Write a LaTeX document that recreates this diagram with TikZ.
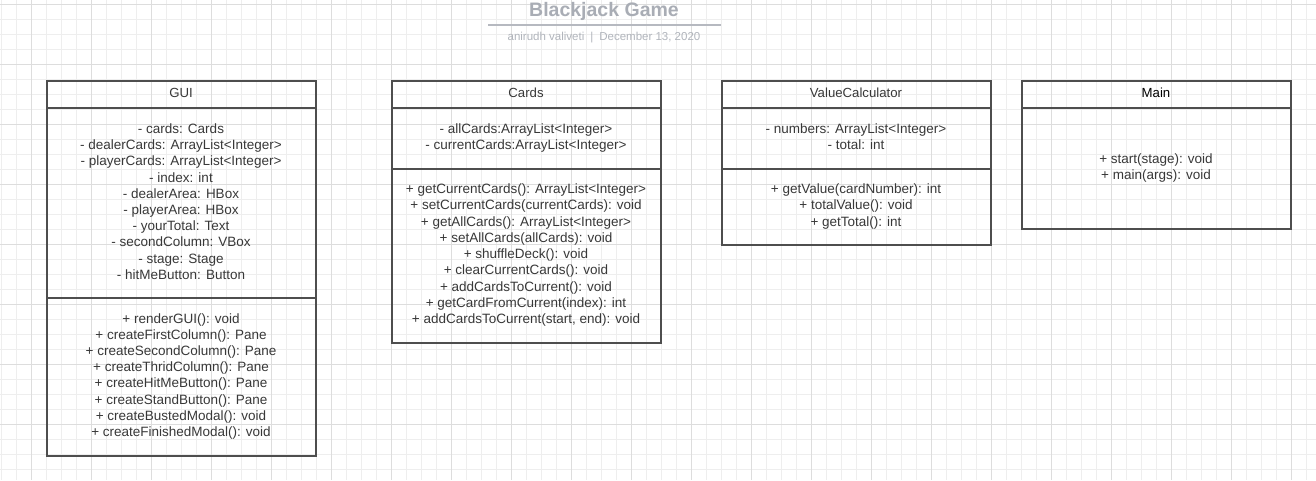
\documentclass[tikz,border=0pt]{standalone}
\usepackage{fontspec}
\setmainfont{Liberation Sans}

\definecolor{gridminor}{HTML}{EEEEEE}
\definecolor{gridmajor}{HTML}{DDDDDD}
\definecolor{boxline}{HTML}{4E4E4E}
\definecolor{membertext}{HTML}{383838}
\definecolor{titlegray}{HTML}{A9ADB5}
\definecolor{subgray}{HTML}{B1B5BC}

\tikzset{
    classbox/.style={draw=boxline, line width=1.8pt, anchor=north west, minimum width=269pt, inner sep=0pt},
    member/.style={anchor=base, inner sep=0pt, text=membertext, font=\fontsize{13.5}{16}\selectfont},
    classname/.style={anchor=base, inner sep=0pt, text=membertext, font=\fontsize{13.2}{16}\selectfont},
    divider/.style={draw=boxline, line width=1.8pt}
}

\begin{document}
\begin{tikzpicture}[x=1pt, y=-1pt]
    \useasboundingbox (0,0) rectangle (1316,480);
    \fill[white] (0,0) rectangle (1316,480);

    % Background grid
    \foreach \x in {1.7,16.7,...,1316} \draw[gridminor, line width=0.7pt] (\x,0) -- (\x,480);
    \foreach \y in {4.3,19.3,...,480} \draw[gridminor, line width=0.7pt] (0,\y) -- (1316,\y);
    \foreach \x in {31.7,91.7,...,1316} \draw[gridmajor, line width=0.7pt] (\x,0) -- (\x,480);
    \foreach \y in {4.3,64.3,...,480} \draw[gridmajor, line width=0.7pt] (0,\y) -- (1316,\y);

    % Title block
    \node[anchor=base, inner sep=0pt, text=titlegray, font=\fontsize{19.5}{20}\selectfont\bfseries] (title) at (604,16) {Blackjack Game};
    \draw[titlegray!85, line width=1.6pt] (488,24.7) -- (721,24.7);
    \node[anchor=base, inner sep=0pt, text=subgray, font=\fontsize{11.5}{12}\selectfont] (author) at (604,40) {anirudh valiveti\hspace{6pt}|\hspace{6pt}December 13, 2020};

    % Class boxes
    \node[classbox, minimum height=375pt] (gui) at (46,80) {};
    \node[classbox, minimum height=262pt] (cards) at (391,80) {};
    \node[classbox, minimum height=164pt] (calc) at (721,80) {};
    \node[classbox, minimum height=148pt] (main) at (1021,80) {};

    % Compartment dividers
    \draw[divider] ([yshift=-28pt]gui.north west) -- ([yshift=-28pt]gui.north east);
    \draw[divider] ([yshift=-218pt]gui.north west) -- ([yshift=-218pt]gui.north east);
    \draw[divider] ([yshift=-28pt]cards.north west) -- ([yshift=-28pt]cards.north east);
    \draw[divider] ([yshift=-89pt]cards.north west) -- ([yshift=-89pt]cards.north east);
    \draw[divider] ([yshift=-28pt]calc.north west) -- ([yshift=-28pt]calc.north east);
    \draw[divider] ([yshift=-89pt]calc.north west) -- ([yshift=-89pt]calc.north east);
    \draw[divider] ([yshift=-28pt]main.north west) -- ([yshift=-28pt]main.north east);

    % GUI
    \node[classname] (gui-name) at (181,97) {GUI};
    \node[member] (gui-a1) at (181,133.5) {- cards: Cards};
    \node[member] (gui-a2) at (181,149.5) {- dealerCards: ArrayList<Integer>};
    \node[member] (gui-a3) at (181,165.5) {- playerCards: ArrayList<Integer>};
    \node[member] (gui-a4) at (181,182) {- index: int};
    \node[member] (gui-a5) at (181,198) {- dealerArea: HBox};
    \node[member] (gui-a6) at (181,214.5) {- playerArea: HBox};
    \node[member] (gui-a7) at (181,230.5) {- yourTotal: Text};
    \node[member] (gui-a8) at (181,246.5) {- secondColumn: VBox};
    \node[member] (gui-a9) at (181,263) {- stage: Stage};
    \node[member] (gui-a10) at (181,279) {- hitMeButton: Button};
    \node[member] (gui-m1) at (181,323) {+ renderGUI(): void};
    \node[member] (gui-m2) at (181,339) {+ createFirstColumn(): Pane};
    \node[member] (gui-m3) at (181,355.5) {+ createSecondColumn(): Pane};
    \node[member] (gui-m4) at (181,371.5) {+ createThridColumn(): Pane};
    \node[member] (gui-m5) at (181,387.5) {+ createHitMeButton(): Pane};
    \node[member] (gui-m6) at (181,404) {+ createStandButton(): Pane};
    \node[member] (gui-m7) at (181,420) {+ createBustedModal(): void};
    \node[member] (gui-m8) at (181,436) {+ createFinishedModal(): void};

    % Cards
    \node[classname] (cards-name) at (526,97) {Cards};
    \node[member] (cards-a1) at (526,133.5) {- allCards:ArrayList<Integer>};
    \node[member] (cards-a2) at (526,149.5) {- currentCards:ArrayList<Integer>};
    \node[member] (cards-m1) at (526,193.5) {+ getCurrentCards(): ArrayList<Integer>};
    \node[member] (cards-m2) at (526,209.5) {+ setCurrentCards(currentCards): void};
    \node[member] (cards-m3) at (526,226) {+ getAllCards(): ArrayList<Integer>};
    \node[member] (cards-m4) at (526,242) {+ setAllCards(allCards): void};
    \node[member] (cards-m5) at (526,258.5) {+ shuffleDeck(): void};
    \node[member] (cards-m6) at (526,274.5) {+ clearCurrentCards(): void};
    \node[member] (cards-m7) at (526,291) {+ addCardsToCurrent(): void};
    \node[member] (cards-m8) at (526,307) {+ getCardFromCurrent(index): int};
    \node[member] (cards-m9) at (526,323.5) {+ addCardsToCurrent(start, end): void};

    % ValueCalculator
    \node[classname] (calc-name) at (856,97) {ValueCalculator};
    \node[member] (calc-a1) at (856,133.5) {- numbers: ArrayList<Integer>};
    \node[member] (calc-a2) at (856,149.5) {- total: int};
    \node[member] (calc-m1) at (856,193.5) {+ getValue(cardNumber): int};
    \node[member] (calc-m2) at (856,209.5) {+ totalValue(): void};
    \node[member] (calc-m3) at (856,226) {+ getTotal(): int};

    % Main
    \node[classname, text=black] (main-name) at (1156,97) {Main};
    \node[member] (main-m1) at (1156,163) {+ start(stage): void};
    \node[member] (main-m2) at (1156,179) {+ main(args): void};
\end{tikzpicture}
\end{document}
